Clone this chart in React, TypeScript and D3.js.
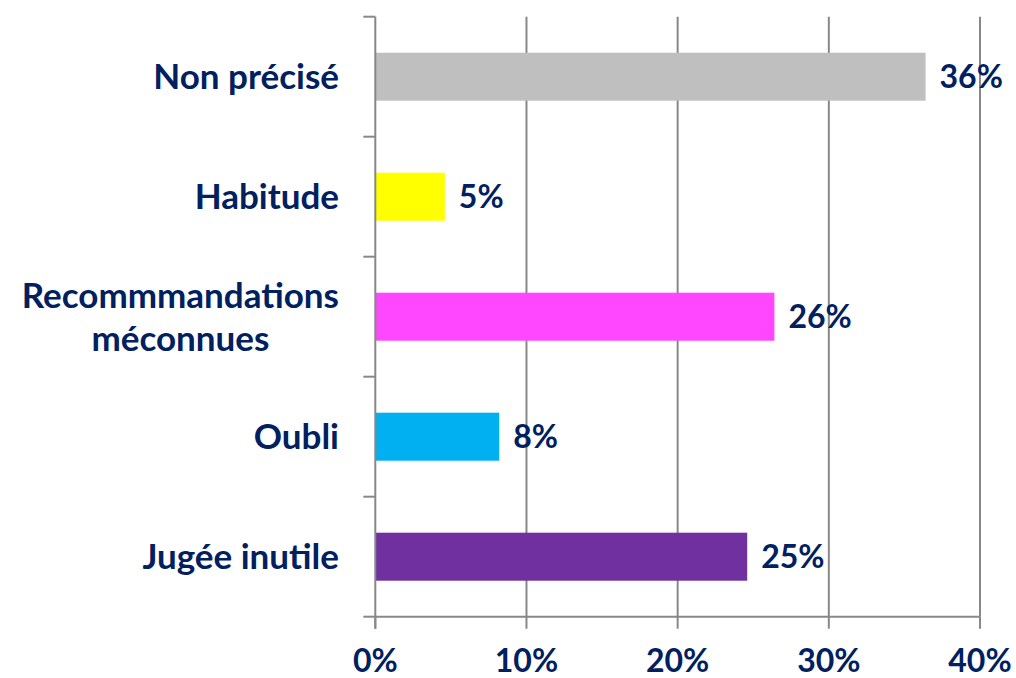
import { useEffect, useRef } from 'react';
import * as d3 from 'd3';

const categories = ['Non précisé', 'Habitude', 'Recommmandations\nméconnues', 'Oubli', 'Jugée inutile'];
const values = [36.4, 4.6, 26.4, 8.2, 24.6];
const colors = ['#BFBFBF', '#FFFF00', '#FF47FF', '#00B0F0', '#7030A0'];
const xTicks = [0, 10, 20, 30, 40];

const App = () => {
  const ref = useRef<SVGSVGElement | null>(null);

  useEffect(() => {
    if (!ref.current) return;
    document.body.style.margin = '0';
    const width = 1016;
    const height = 678;
    const margin = { top: 16.7, right: 36, bottom: 61.3, left: 375.3 };
    const textColor = '#002060';
    const gridColor = '#888888';
    const font = 'Lato, "Open Sans", sans-serif';

    const svg = d3.select(ref.current);
    svg.selectAll('*').remove();
    svg.attr('width', width).attr('height', height);

    const x = d3.scaleLinear().domain([0, 40]).range([margin.left, width - margin.right]);
    const y = d3
      .scaleBand<string>()
      .domain(categories)
      .range([margin.top, height - margin.bottom])
      .paddingInner(0.6)
      .paddingOuter(0.3);
    const step = y.step();
    const y0 = margin.top;
    const y1 = height - margin.bottom;

    // gridlines
    svg
      .append('g')
      .selectAll('line')
      .data(xTicks.slice(1))
      .join('line')
      .attr('x1', (d) => x(d))
      .attr('x2', (d) => x(d))
      .attr('y1', y0)
      .attr('y2', y1)
      .attr('stroke', gridColor)
      .attr('stroke-width', 2);

    // bars
    svg
      .append('g')
      .selectAll('rect')
      .data(values)
      .join('rect')
      .attr('x', x(0))
      .attr('y', (_, i) => y(categories[i]) as number)
      .attr('width', (d) => x(d) - x(0))
      .attr('height', y.bandwidth())
      .attr('fill', (_, i) => colors[i]);

    // y axis line + ticks
    const ya = svg.append('g').attr('stroke', gridColor).attr('stroke-width', 2);
    ya.append('line').attr('x1', x(0)).attr('x2', x(0)).attr('y1', y0).attr('y2', y1 + 12);
    ya.selectAll('line.tick')
      .data(d3.range(categories.length + 1))
      .join('line')
      .attr('class', 'tick')
      .attr('x1', x(0) - 12)
      .attr('x2', x(0))
      .attr('y1', (i) => y0 + i * step)
      .attr('y2', (i) => y0 + i * step);

    // x axis line + ticks
    const xa = svg.append('g').attr('stroke', gridColor).attr('stroke-width', 2);
    xa.append('line').attr('x1', x(0)).attr('x2', x(40)).attr('y1', y1).attr('y2', y1);
    xa.selectAll('line.tick')
      .data(xTicks)
      .join('line')
      .attr('class', 'tick')
      .attr('x1', (d) => x(d))
      .attr('x2', (d) => x(d))
      .attr('y1', y1)
      .attr('y2', y1 + 12);

    // x tick labels
    svg
      .append('g')
      .selectAll('text')
      .data(xTicks)
      .join('text')
      .attr('x', (d) => x(d))
      .attr('y', 672)
      .attr('text-anchor', 'middle')
      .attr('font-family', font)
      .attr('font-weight', 'bold')
      .attr('font-size', 32)
      .attr('fill', textColor)
      .text((d) => `${d}%`);

    // value labels
    svg
      .append('g')
      .selectAll('text')
      .data(values)
      .join('text')
      .attr('x', (d) => x(d) + 14)
      .attr('y', (_, i) => (y(categories[i]) as number) + y.bandwidth() / 2)
      .attr('dy', '0.36em')
      .attr('font-family', font)
      .attr('font-weight', 'bold')
      .attr('font-size', 32)
      .attr('fill', textColor)
      .text((d) => `${Math.round(d)}%`);

    // category labels (multi-line blocks centered on their widest line, right-aligned)
    const labelRight = 339;
    const lineH = 43;
    categories.forEach((c) => {
      const lines = c.split('\n');
      const cy = (y(c) as number) + y.bandwidth() / 2;
      const g = svg.append('g');
      const texts = lines.map((ln, k) =>
        g
          .append('text')
          .attr('y', cy + (k - (lines.length - 1) / 2) * lineH)
          .attr('dy', '0.36em')
          .attr('font-family', font)
          .attr('font-weight', 'bold')
          .attr('font-size', 35)
          .attr('fill', textColor)
          .attr('text-anchor', 'middle')
          .text(ln)
      );
      const maxW = d3.max(texts, (t) => (t.node() as SVGTextElement).getComputedTextLength()) ?? 0;
      texts.forEach((t) => t.attr('x', labelRight - maxW / 2));
    });
  }, []);

  return <svg ref={ref} style={{ display: 'block' }} />;
};

export default App;
